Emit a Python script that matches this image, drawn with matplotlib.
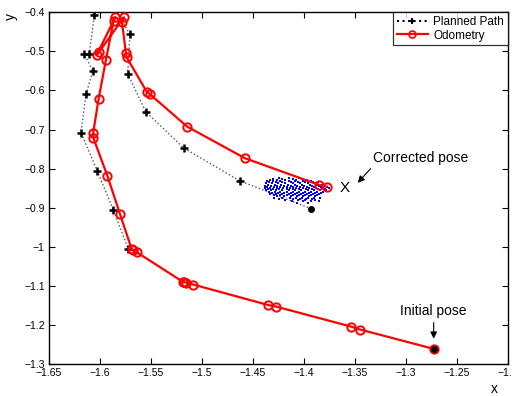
import matplotlib
matplotlib.use("Agg")
import matplotlib.pyplot as plt

plt.rcParams["font.family"] = ["Liberation Sans", "DejaVu Sans"]

# planned path (dotted, + markers)
plan_x = [-1.3925, -1.4627, -1.5176, -1.5549, -1.5728, -1.5706, -1.5900,
          -1.6056, -1.6105, -1.6154, -1.6069, -1.6137, -1.6186, -1.6026,
          -1.5870, -1.5722]
plan_y = [-0.9030, -0.8315, -0.7478, -0.6550, -0.5578, -0.4563, -0.3700,
          -0.4069, -0.5074, -0.5074, -0.5501, -0.6090, -0.7079, -0.8066,
          -0.9056, -1.0061]

# odometry (red, circles), starting at the initial pose
odo_x = [-1.2726, -1.3448, -1.3539, -1.4275, -1.4356, -1.5085, -1.5160,
         -1.5175, -1.5186, -1.5640, -1.5680, -1.5689, -1.5804, -1.5928,
         -1.6066, -1.6066, -1.6013, -1.5941, -1.5867, -1.5850, -1.6032,
         -1.6007, -1.5765, -1.5784, -1.5745, -1.5738, -1.5542, -1.5510,
         -1.5144, -1.4578, -1.3850, -1.3777]
odo_y = [-1.2613, -1.2118, -1.2041, -1.1529, -1.1486, -1.0967, -1.0915,
         -1.0905, -1.0898, -1.0138, -1.0075, -1.0061, -0.9159, -0.8179,
         -0.7207, -0.7079, -0.6210, -0.5212, -0.4222, -0.4128, -0.5092,
         -0.5008, -0.4128, -0.4256, -0.5049, -0.5151, -0.6031, -0.6097,
         -0.6926, -0.7734, -0.8417, -0.8460]

# black dots: goal of the plan and initial pose
dot_x = [-1.3925, -1.2726]
dot_y = [-0.9030, -1.2613]

# particle cloud, read row by row (y: list of x)
cloud_rows = {
    -0.823: [-1.424, -1.415, -1.405],
    -0.826: [-1.430, -1.421, -1.411, -1.402],
    -0.829: [-1.433, -1.426, -1.418, -1.408, -1.397],
    -0.832: [-1.436, -1.430, -1.423, -1.415, -1.409, -1.401, -1.393],
    -0.835: [-1.434, -1.427, -1.421, -1.413, -1.406, -1.399, -1.391, -1.386],
    -0.838: [-1.437, -1.431, -1.425, -1.418, -1.411, -1.404, -1.396, -1.389],
    -0.841: [-1.435, -1.428, -1.422, -1.416, -1.409, -1.402, -1.394, -1.387,
             -1.382],
    -0.844: [-1.438, -1.432, -1.426, -1.419, -1.413, -1.407, -1.400, -1.392,
             -1.385, -1.380],
    -0.847: [-1.436, -1.429, -1.423, -1.417, -1.411, -1.404, -1.397, -1.390,
             -1.383, -1.377],
    -0.850: [-1.438, -1.433, -1.426, -1.420, -1.414, -1.408, -1.401, -1.395,
             -1.388, -1.381, -1.375],
    -0.853: [-1.435, -1.430, -1.424, -1.417, -1.411, -1.405, -1.398, -1.392,
             -1.386, -1.379],
    -0.856: [-1.437, -1.432, -1.427, -1.421, -1.415, -1.409, -1.403, -1.396,
             -1.390, -1.384, -1.378],
    -0.859: [-1.434, -1.428, -1.423, -1.417, -1.411, -1.405, -1.399, -1.393,
             -1.387, -1.381],
    -0.862: [-1.431, -1.425, -1.419, -1.413, -1.407, -1.401, -1.395, -1.389,
             -1.383],
    -0.865: [-1.433, -1.427, -1.421, -1.415, -1.409, -1.403, -1.397, -1.391,
             -1.385],
    -0.868: [-1.429, -1.423, -1.417, -1.411, -1.405, -1.399, -1.393, -1.387],
    -0.871: [-1.426, -1.419, -1.413, -1.407, -1.401, -1.395, -1.389],
    -0.874: [-1.429, -1.421, -1.414, -1.408, -1.402, -1.396, -1.390, -1.384],
    -0.877: [-1.424, -1.411, -1.404, -1.398, -1.392],
    -0.880: [-1.418, -1.406, -1.399, -1.389],
    -0.884: [-1.412, -1.401, -1.393, -1.385],
    -0.889: [-1.407, -1.396],
}

x_ticks = [-1.65, -1.6, -1.55, -1.5, -1.45, -1.4, -1.35, -1.3, -1.25, -1.2]
x_labels = ["\u22121.65", "\u22121.6", "\u22121.55", "\u22121.5", "\u22121.45",
            "\u22121.4", "\u22121.35", "\u22121.3", "\u22121.25", "\u22121.2"]
y_ticks = [-1.3, -1.2, -1.1, -1.0, -0.9, -0.8, -0.7, -0.6, -0.5, -0.4]
y_labels = ["\u22121.3", "\u22121.2", "\u22121.1", "\u22121", "\u22120.9",
            "\u22120.8", "\u22120.7", "\u22120.6", "\u22120.5", "\u22120.4"]

fig = plt.figure(figsize=(5.12, 3.96), dpi=100)
ax = fig.add_axes([0.0957, 0.0808, 0.8959, 0.8882])

cx, cy = [], []
for yy, xs in cloud_rows.items():
    for xx in xs:
        cx.append(xx)
        cy.append(yy)
ax.plot(cx, cy, "s", color="#0000ff", ms=1.9, mew=0, zorder=2)

ax.plot(plan_x, plan_y, ":", color="#555555", lw=1.0, zorder=1)
ax.plot(plan_x[1:], plan_y[1:], "+", color="black", ms=6, mew=1.8, zorder=3)

ax.plot(odo_x, odo_y, "-", color="#ff0000", lw=1.6, marker="o",
        ms=6, mfc="none", mec="#ff0000", mew=1.4, zorder=4)

ax.plot(dot_x, dot_y, "o", color="black", ms=4, zorder=5)

# legend handles
ax.plot([], [], ":", color="black", marker="+", ms=5, mew=1.5, label="Planned Path")
ax.plot([], [], "-", color="#ff0000", lw=1.6, marker="o", ms=5, mfc="none",
        mew=1.2, label="Odometry")
handles, labels = ax.get_legend_handles_labels()
leg = ax.legend(handles, labels, loc="upper right", fontsize=8.5, frameon=True,
                fancybox=False, borderaxespad=0, handlelength=2.6,
                borderpad=0.3, labelspacing=0.15, handletextpad=0.5)
leg.get_frame().set_edgecolor("black")
leg.get_frame().set_linewidth(0.9)

ax.text(-1.3324, -0.7728, "Corrected pose", fontsize=10, ha="left", va="center")
ax.annotate("", xy=(-1.349, -0.8417), xytext=(-1.3327, -0.7949),
            arrowprops=dict(arrowstyle="-|>", color="black", lw=0.8, mutation_scale=10))
ax.text(-1.3595, -0.850, "X", fontsize=11, ha="center", va="center")

ax.text(-1.2735, -1.164, "Initial pose", fontsize=10, ha="center", va="center")
ax.annotate("", xy=(-1.2726, -1.2425), xytext=(-1.2726, -1.187),
            arrowprops=dict(arrowstyle="-|>", color="black", lw=0.8, mutation_scale=10))

ax.set_xlim(-1.65, -1.2)
ax.set_ylim(-1.3, -0.4)
ax.set_xticks(x_ticks)
ax.set_xticklabels(x_labels)
ax.set_yticks(y_ticks)
ax.set_yticklabels(y_labels)
ax.tick_params(direction="in", top=True, right=True, length=4, width=0.8,
               labelsize=7.5, pad=3)
for s in ax.spines.values():
    s.set_linewidth(1.0)

ax.set_xlabel("x", fontsize=10)
ax.set_ylabel("y", fontsize=10, rotation=90)
ax.xaxis.set_label_coords(0.970, -0.051)
ax.yaxis.set_label_coords(-0.068, 0.987)

fig.savefig("out.png", dpi=100)
